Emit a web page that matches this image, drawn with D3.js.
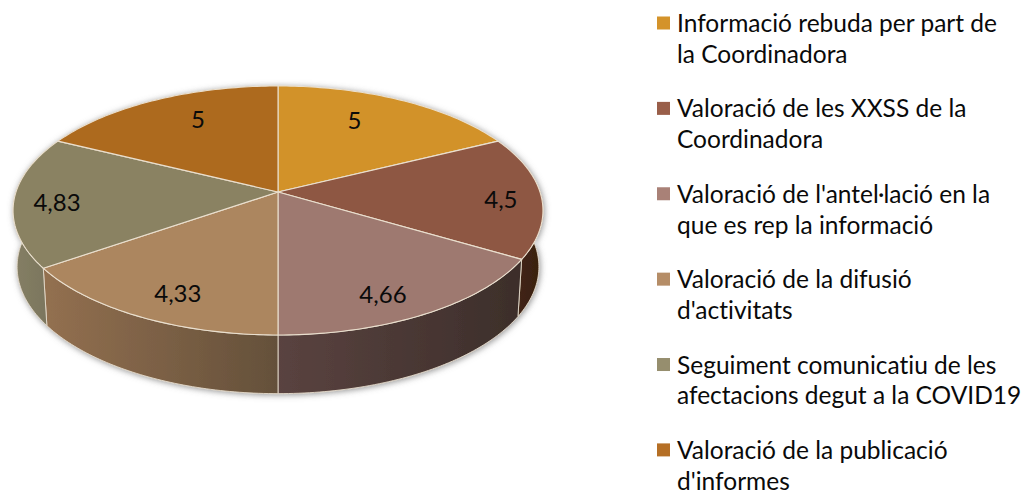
<!DOCTYPE html>
<html>
<head>
<meta charset="utf-8">
<script src="https://cdn.jsdelivr.net/npm/d3@7"></script>
<style>
  html, body { margin: 0; padding: 0; background: #fff; }
  text { font-family: Lato, "Open Sans", sans-serif; fill: #0a0a0a; font-variant-ligatures: none; }
</style>
</head>
<body>
<div id="chart"></div>
<script>
var categories = [
  ["Informació rebuda per part de", "la Coordinadora"],
  ["Valoració de les XXSS de la", "Coordinadora"],
  ["Valoració de l'antel·lació en la", "que es rep la informació"],
  ["Valoració de la difusió", "d'activitats"],
  ["Seguiment comunicatiu de les", "afectacions degut a la COVID19"],
  ["Valoració de la publicació", "d'informes"]
];
var values = [5, 4.5, 4.66, 4.33, 4.83, 5];
var valueLabels = ["5", "4,5", "4,66", "4,33", "4,83", "5"];

var topColors = ["#d29229", "#8e5743", "#9e7970", "#ac865f", "#8a8262", "#ad6a1e"];
var swatchColors = ["#d4932a", "#995e49", "#a98177", "#b58d67", "#968e6e", "#b56f25"];
var wallFrom = ["#a06d1c", "#4a2a1a", "#5a4340", "#937050", "#857f65", "#84500f"];
var wallTo = ["#a06d1c", "#38200f", "#3c2e2a", "#64503a", "#77725a", "#84500f"];

// where each value label sits on its slice (share of radius, degrees off mid angle)
var labelRadius = [0.72, 0.845, 0.832, 0.819, 0.837, 0.73];
var labelTurn = [-5.4, 2.2, 4.3, -3, -1.8, 4.5];

var width = 1025, height = 495;

// Perspective of the disc: apex, radii and tilt for the top face and the base
var tilt = -0.1486;
var topFace = {cx: 278, cy: 192, a: 262, b: 121.75};
var baseFace = {cx: 278, cy: 248, a: 258, b: 124};

function project(face, angle, r) {
  var u = r * Math.sin(angle), v = -r * Math.cos(angle);
  var w = 1 + tilt * v;
  return [face.cx + face.a * u / w, face.cy + face.b * v / w];
}

function rim(face, a0, a1) {
  return d3.range(0, 61).map(function(i) {
    return project(face, a0 + (a1 - a0) * i / 60, 1);
  });
}

var line = d3.line();

var svg = d3.select("#chart")
  .append("svg")
    .attr("width", width)
    .attr("height", height)
    .style("display", "block");

var defs = svg.append("defs");

var shadow = defs.append("filter")
    .attr("id", "shadow")
    .attr("x", "-10%").attr("y", "-10%")
    .attr("width", "120%").attr("height", "120%");
shadow.append("feDropShadow")
    .attr("dx", 1).attr("dy", 1)
    .attr("stdDeviation", 3)
    .attr("flood-color", "#6e6e6e")
    .attr("flood-opacity", 0.75);

var slices = d3.pie().sort(null).value(function(d) { return d; })(values);

// Side walls get a left to right gradient over their own bounding box
slices.forEach(function(d, i) {
  var g = defs.append("linearGradient").attr("id", "wall" + i);
  g.append("stop").attr("offset", "0%").attr("stop-color", wallFrom[i]);
  g.append("stop").attr("offset", "100%").attr("stop-color", wallTo[i]);
});

// Walls first, the top face covers what is behind it
svg.append("g")
    .attr("filter", "url(#shadow)")
  .selectAll("path")
  .data(slices)
  .enter()
  .append("path")
    .attr("d", function(d) {
      var pts = rim(topFace, d.startAngle, d.endAngle)
        .concat(rim(baseFace, d.endAngle, d.startAngle));
      return line(pts) + "Z";
    })
    .attr("fill", function(d, i) { return "url(#wall" + i + ")"; })
    .attr("stroke", "#e4dacb")
    .attr("stroke-width", 0.9)
    .attr("stroke-linejoin", "round");

svg.append("g")
  .selectAll("path")
  .data(slices)
  .enter()
  .append("path")
    .attr("d", function(d) {
      var pts = [project(topFace, 0, 0)].concat(rim(topFace, d.startAngle, d.endAngle));
      return line(pts) + "Z";
    })
    .attr("fill", function(d, i) { return topColors[i]; })
    .attr("stroke", "#eadfce")
    .attr("stroke-width", 1.1)
    .attr("stroke-linejoin", "round");

svg.append("g")
    .attr("font-size", 24)
    .attr("text-anchor", "middle")
  .selectAll("text")
  .data(slices)
  .enter()
  .append("text")
    .attr("transform", function(d, i) {
      var mid = (d.startAngle + d.endAngle) / 2 + labelTurn[i] * Math.PI / 180;
      return "translate(" + project(topFace, mid, labelRadius[i]) + ")";
    })
    .attr("dy", "0.35em")
    .text(function(d, i) { return valueLabels[i]; });

// Legend
var legendY = d3.scaleLinear().domain([0, 5]).range([16.5, 443.4]);

var legend = svg.append("g")
  .selectAll("g")
  .data(categories)
  .enter()
  .append("g")
    .attr("transform", function(d, i) { return "translate(657," + legendY(i) + ")"; });

legend.append("rect")
    .attr("width", 13)
    .attr("height", 13)
    .attr("fill", function(d, i) { return swatchColors[i]; });

legend.selectAll("text")
  .data(function(d) { return d; })
  .enter()
  .append("text")
    .attr("x", 20)
    .attr("y", function(d, i) { return 15.5 + i * 30.8; })
    .attr("font-size", 24.5)
    .text(function(d) { return d; });
</script>
</body>
</html>
